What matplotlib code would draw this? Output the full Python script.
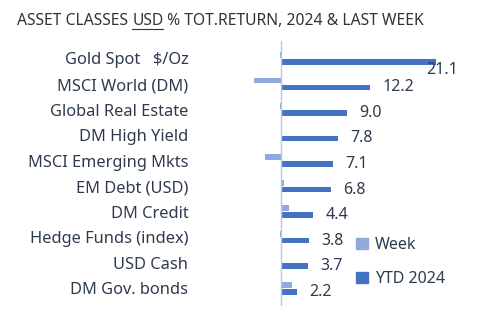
import numpy as np
import matplotlib.pyplot as plt
from matplotlib.patches import Patch

plt.rcParams['font.family'] = ['Noto Sans', 'DejaVu Sans']

categories = ['Gold Spot   $/Oz', 'MSCI World (DM)', 'Global Real Estate', 'DM High Yield',
              'MSCI Emerging Mkts', 'EM Debt (USD)', 'DM Credit', 'Hedge Funds (index)',
              'USD Cash', 'DM Gov. bonds']
ytd_2024 = [21.1, 12.2, 9.0, 7.8, 7.1, 6.8, 4.4, 3.8, 3.7, 2.2]
week = [-0.1, -3.7, -0.2, 0.1, -2.2, 0.4, 1.1, -0.1, 0.1, 1.5]

ytd_color = '#4472C4'
week_color = '#8FAADC'
text_color = '#2E3A4D'

fig = plt.figure(figsize=(5.0, 3.24), dpi=100)
ax = fig.add_axes([0.496, 0.0556, 0.418, 0.819])

y = np.arange(len(categories))
h = 0.23
ax.barh(y - 0.135, week, height=h, color=week_color)
ax.barh(y + 0.135, ytd_2024, height=h, color=ytd_color)

ax.set_xlim(-4.5, 24)
ax.set_ylim(9.7, -0.7)
ax.axvline(0, color='#B4C7E7', lw=1)

for s in ax.spines.values():
    s.set_visible(False)
ax.set_xticks([])
ax.set_yticks(y)
ax.set_yticklabels(categories, fontsize=11.8, color=text_color)
ax.tick_params(axis='y', length=0, pad=43)

for i, v in enumerate(ytd_2024):
    if i == 0:
        ax.annotate(f'{v:.1f}', xy=(v, i + 0.135), xytext=(-7, -6), textcoords='offset points',
                    ha='left', va='center', fontsize=11.5, color=text_color)
    else:
        ax.annotate(f'{v:.1f}', xy=(v, i + 0.135), xytext=(9, 0), textcoords='offset points',
                    ha='left', va='center', fontsize=11.5, color=text_color)

handles = [Patch(color=week_color, label='Week'), Patch(color=ytd_color, label='YTD 2024')]
fig.legend(handles=handles, loc='upper left', bbox_to_anchor=(0.697, 0.292), frameon=False,
           handlelength=0.7, handleheight=0.7, handletextpad=0.45, labelspacing=1.1,
           borderpad=0, fontsize=11.5, labelcolor=text_color)

# title with underlined USD
ty = 0.923
t1 = fig.text(0.034, ty, 'ASSET CLASSES ', fontsize=11.3, color='#333333', va='baseline')
fig.canvas.draw()
r = fig.canvas.get_renderer()
bb1 = t1.get_window_extent(r)
x2 = bb1.x1 / fig.bbox.width
t2 = fig.text(x2, ty, 'USD', fontsize=11.3, color='#333333', va='baseline')
bb2 = t2.get_window_extent(r)
x3 = bb2.x1 / fig.bbox.width
fig.text(x3, ty, ' % TOT.RETURN, 2024 & LAST WEEK', fontsize=11.3, color='#333333', va='baseline')
fig.add_artist(plt.Line2D([x2, x3], [0.912, 0.912], color='#333333', lw=0.8))

fig.savefig('out.png', dpi=100)
